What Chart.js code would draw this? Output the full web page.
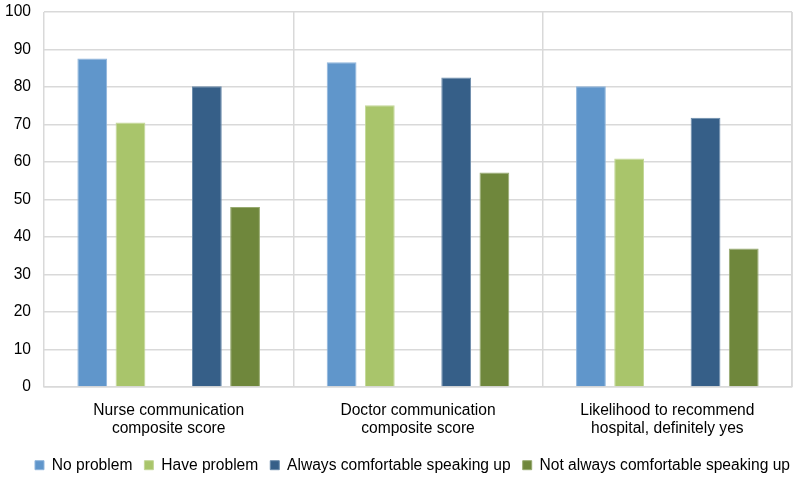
<!DOCTYPE html>
<html>
<head>
<meta charset="utf-8">
<script src="https://cdn.jsdelivr.net/npm/chart.js@4"></script>
<style>
  html, body { margin:0; padding:0; background:#fff; }
  #wrap { width:800px; height:483px; }
</style>
</head>
<body>
<div id="wrap"><canvas id="c"></canvas></div>
<script>
// ---- data ----
var categories = [
  ['Nurse communication', 'composite score'],
  ['Doctor communication', 'composite score'],
  ['Likelihood to recommend', 'hospital, definitely yes']
];
var noProblem   = [87.6, 86.6, 80.2];
var haveProblem = [70.5, 75.1, 60.9];
var alwaysComf  = [80.2, 82.5, 71.8];
var notAlways   = [48.0, 57.2, 36.9];
var yTicks = [0, 10, 20, 30, 40, 50, 60, 70, 80, 90, 100];

var GRID = '#d9d9d9';
var FONT = 'Liberation Sans, Arial, sans-serif';
var FS = 15.6;

function ds(label, data, color, edge) {
  return { label:label, data:data, backgroundColor:color, borderColor:edge, borderWidth:1,
           barPercentage:0.78, categoryPercentage:0.766 };
}

new Chart(document.getElementById('c'), {
  type: 'bar',
  data: {
    labels: categories,
    datasets: [
      ds('No problem', noProblem, '#6096cb', '#8fb5dc'),
      ds('Have problem', haveProblem, '#a9c56b', '#c3d797'),
      // empty slot keeps the gap in the middle of each group
      ds('', [null, null, null], 'rgba(0,0,0,0)', 'rgba(0,0,0,0)'),
      ds('Always comfortable speaking up', alwaysComf, '#365f88', '#6a8bab'),
      ds('Not always comfortable speaking up', notAlways, '#6f873c', '#97aa70')
    ]
  },
  options: {
    responsive: true,
    maintainAspectRatio: false,
    animation: false,
    layout: { padding: { top: 12, right: 8, left: 0, bottom: 0 } },
    plugins: {
      tooltip: { enabled: false },
      legend: {
        position: 'bottom',
        align: 'end',
        labels: {
          color: '#000',
          font: { family: FONT, size: FS },
          boxWidth: 9, boxHeight: 9, padding: 12,
          filter: function(item) { return item.text !== ''; }
        }
      }
    },
    scales: {
      x: {
        grid: { color: GRID, lineWidth: 1.5, drawTicks: false, offset: true },
        border: { color: GRID, width: 1.5 },
        ticks: { color: '#000', font: { family: FONT, size: FS }, padding: 14, maxRotation: 0 },
        afterFit: function(axis) { axis.height -= 7; }
      },
      y: {
        min: 0, max: 100,
        afterBuildTicks: function(axis) { axis.ticks = yTicks.map(function(v) { return { value: v }; }); },
        grid: { color: GRID, lineWidth: 1.5, drawTicks: false },
        border: { display: false },
        ticks: { color: '#000', font: { family: FONT, size: FS }, padding: 13 },
        afterFit: function(axis) { axis.width = 44; axis.paddingTop = 0; axis.paddingBottom = 0; }
      }
    }
  },
  plugins: [{
    id: 'rightEdge',
    afterLayout: function(chart) {
      // legend sits a little further right than the default box allows
      if (chart.legend) { chart.legend.left += 10; chart.legend.right += 10; }
    },
    afterDraw: function(chart) {
      var a = chart.chartArea, ctx = chart.ctx;
      ctx.save();
      ctx.strokeStyle = GRID; ctx.lineWidth = 1.5;
      ctx.beginPath(); ctx.moveTo(a.right, a.top); ctx.lineTo(a.right, a.bottom); ctx.stroke();
      ctx.restore();
    }
  }]
});
</script>
</body>
</html>
